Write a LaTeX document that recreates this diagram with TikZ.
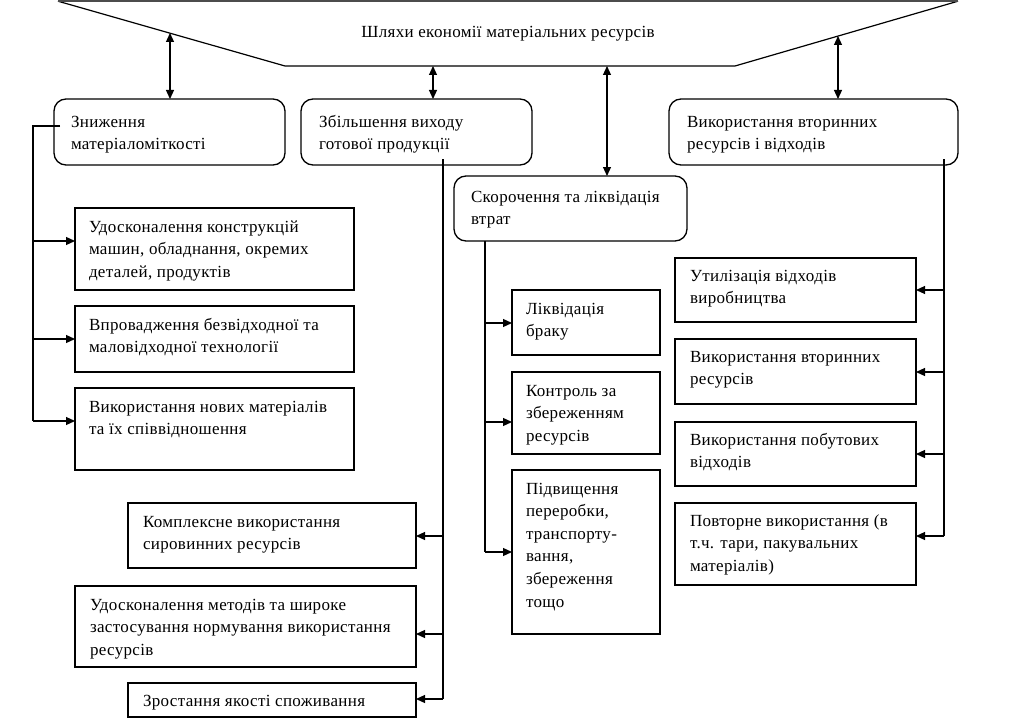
\documentclass[tikz,border=0pt]{standalone}
\usepackage{fontspec}
\setmainfont[LetterSpace=2]{Liberation Serif}
\usetikzlibrary{arrows.meta}
\newcommand\bxt[5]{\parbox[c][#2pt][t]{#1pt}{\fontsize{17pt}{22.6pt}\selectfont\leftskip=#3pt\rightskip=0pt plus 1fil\parindent=0pt\parfillskip=0pt plus 1fil\vspace*{\dimexpr#4pt-13.82pt\relax}\strut #5\par}}
\tikzset{
  box/.style={draw, line width=1.3pt, anchor=north west, inner sep=0pt, outer sep=0pt},
  rbox/.style={box, rounded corners=12pt},
  conn/.style={line width=1.2pt},
  arr/.style={line width=1.2pt, -{Triangle[length=9pt,width=8pt]}},
  darr/.style={line width=1.2pt, {Triangle[length=9pt,width=8pt]}-{Triangle[length=9pt,width=8pt]}},
}
\begin{document}
\begin{tikzpicture}[x=1pt,y=-1pt]
\useasboundingbox (0,0) rectangle (1015,725);
% trapezoid
\coordinate (tl) at (58,1.2);
\coordinate (tr) at (958,1.2);
\coordinate (bl) at (285,66);
\coordinate (br) at (735,66);
\draw[line width=1.2pt] (tl) -- (bl) -- (br) -- (tr);
\draw[line width=2.6pt, black!70] (tl) -- (tr);
\node (title) at (508,34) {\fontsize{17pt}{18pt}\selectfont Шляхи економії матеріальних ресурсів};
% main boxes
\node[rbox] (box1) at (54,99) {\bxt{231}{66}{17}{26}{Зниження\\матеріаломіткості}};
\node[rbox] (box2) at (301,99) {\bxt{231}{66}{18}{26}{Збільшення виходу\\готової продукції}};
\node[rbox] (box3) at (669,99) {\bxt{289}{66}{18}{26}{Використання вторинних\\ресурсів і відходів}};
\node[rbox] (box4) at (454,176) {\bxt{233}{65}{17}{24}{Скорочення та ліквідація\\втрат}};
% left group
\node[box] (a1) at (75,208) {\bxt{279}{82}{14}{22}{Удосконалення конструкцій\\машин, обладнання, окремих\\деталей, продуктів}};
\node[box] (a2) at (75,306) {\bxt{279}{66}{14}{22}{Впровадження безвідходної та\\маловідходної технології}};
\node[box] (a3) at (75,388) {\bxt{279}{82}{14}{22}{Використання нових матеріалів\\та їх співвідношення}};
% lower-left group
\node[box] (b1) at (128,503) {\bxt{288}{65}{15}{22}{Комплексне використання\\сировинних ресурсів}};
\node[box] (b2) at (75,586) {\bxt{341}{81}{15}{22}{Удосконалення методів та широке\\застосування нормування використання\\ресурсів}};
\node[box] (b3) at (128,683) {\bxt{288}{34}{15}{21}{Зростання якості споживання}};
% middle group
\node[box] (c1) at (512,290) {\bxt{148}{65}{14}{22}{Ліквідація\\браку}};
\node[box] (c2) at (512,372) {\bxt{148}{82}{14}{22}{Контроль за\\збереженням\\ресурсів}};
\node[box] (c3) at (512,470) {\bxt{148}{164}{14}{22}{Підвищення\\переробки,\\транспорту-\\вання,\\збереження\\тощо}};
% right group
\node[box] (d1) at (675,258) {\bxt{241}{64}{15}{21}{Утилізація відходів\\виробництва}};
\node[box] (d2) at (675,339) {\bxt{241}{65}{15}{21}{Використання вторинних\\ресурсів}};
\node[box] (d3) at (675,422) {\bxt{241}{64}{15}{21}{Використання побутових\\відходів}};
\node[box] (d4) at (675,503) {\bxt{241}{82}{15}{21}{Повторне використання (в\\т.ч. тари, пакувальних\\матеріалів)}};
% double arrows
\coordinate (s1) at (170,33);
\coordinate (s2) at (433,66);
\coordinate (s3) at (607,66);
\coordinate (s4) at (838,36);
\draw[darr] (s1) -- (s1 |- box1.north);
\draw[darr] (s2) -- (s2 |- box2.north);
\draw[darr] (s3) -- (s3 |- box4.north);
\draw[darr] (s4) -- (s4 |- box3.north);
% left trunk
\coordinate (la) at (60,126);
\coordinate (lb) at (33,421);
\draw[conn] (la) -| (lb);
\draw[arr] (33,241) -- (a1.west |- 33,241);
\draw[arr] (33,339) -- (a2.west |- 33,339);
\draw[arr] (lb) -- (a3.west |- lb);
% box2 trunk
\coordinate (ma) at (443,159);
\coordinate (mb) at (443,699);
\draw[conn] (ma) -- (mb);
\draw[arr] (443,536) -- (b1.east |- 443,536);
\draw[arr] (443,634) -- (b2.east |- 443,634);
\draw[arr] (mb) -- (b3.east |- mb);
% box4 trunk
\coordinate (na) at (485,241);
\coordinate (nb) at (485,552);
\draw[conn] (na) -- (nb);
\draw[arr] (485,323) -- (c1.west |- 485,323);
\draw[arr] (485,422) -- (c2.west |- 485,422);
\draw[arr] (nb) -- (c3.west |- nb);
% box3 trunk
\coordinate (ra) at (944,159);
\coordinate (rb) at (944,536);
\draw[conn] (ra) -- (rb);
\draw[arr] (944,290) -- (d1.east |- 944,290);
\draw[arr] (944,372) -- (d2.east |- 944,372);
\draw[arr] (944,454) -- (d3.east |- 944,454);
\draw[arr] (rb) -- (d4.east |- rb);
\end{tikzpicture}
\end{document}
